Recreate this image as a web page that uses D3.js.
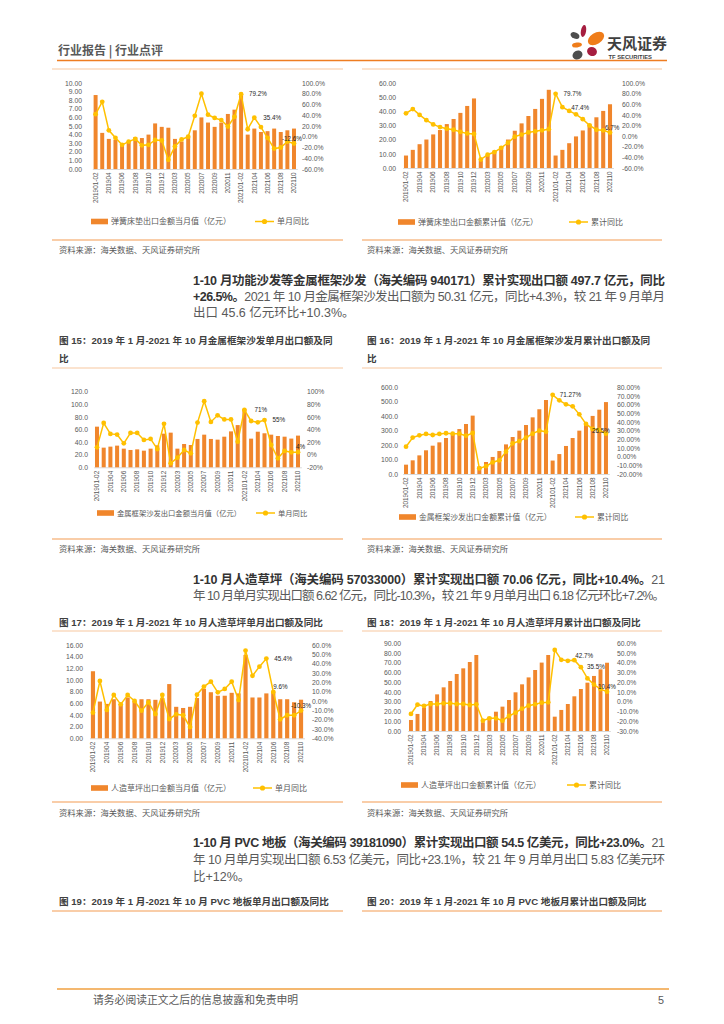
<!DOCTYPE html>
<html>
<head>
<meta charset="utf-8">
<script src="https://cdn.jsdelivr.net/npm/d3@7"></script>
<style>
  body { margin: 0; background: #fff; }
</style>
</head>
<body>
<div id="page"></div>
<script>
// periods shared by all six charts
const periods = ["201901-02","201903","201904","201905","201906","201907","201908","201909","201910","201911","201912",
  "202001-02","202003","202004","202005","202006","202007","202008","202009","202010","202011","202012",
  "202101-02","202103","202104","202105","202106","202107","202108","202109","202110"];

// spring mattress, monthly value (亿元) and yoy (%)
const springMonth = [8.6,4.2,3.5,3.4,3.0,3.1,3.7,3.6,4.0,5.3,4.9, 4.8,3.5,3.2,3.7,4.5,6.0,5.4,4.9,5.4,6.4,6.9, 8.6,4.0,4.7,4.3,4.4,4.7,4.3,4.5,4.7];
const springMonthYoy = [42,65,12,-2,-15,-9,-4,-16,-15,-6,-7, -43,-18,-5,0,39,80,41,35,31,19,37, 79.2,14,35.4,18,-2,-22,-20,-9,-12.6];
// spring mattress, cumulative value and yoy
const springCum = [8.8,12.8,16.8,20.1,23.7,26.8,31.0,34.6,38.9,43.8,49.1, 5.2,8.8,11.8,15.2,20.1,26.3,31.5,36.7,41.7,48.8,55.2, 8.8,12.8,17.5,22.3,26.5,30.8,35.8,40.3,45.0];
const springCumYoy = [43,51,40,30,22,17,14,12,8,5,4, -44,-35,-30,-22,-12.5,-1,3,7,9,11,13, 79.7,54.5,47.4,41,32,20,12,11,6.7];

// metal frame sofa
const sofaMonth = [64.5,31.2,32.8,34.4,29.6,27.5,28.5,26.4,29.6,34.9,53.4, 55.0,29.6,37.0,35.4,45.0,51.8,45.0,43.9,48.6,57.0,67.0, 92.5,45.5,56.5,54.0,51.8,49.7,48.6,45.6,50.3];
const sofaMonthYoy = [11.7,50.3,33,32,18,34.5,34.5,23.4,25,9,49, -13.6,-4.7,7.5,2.2,51,85,52,62.5,56,56,20.7, 71,53.5,51.4,55,15.4,-5.7,6,3.8,4];
const sofaCum = [64.6,94.6,129,164,196,219,249,279,311,346,404, 53,83,118,159,205,256,300,339,392,448,512, 93,138,194,249,300,351,402,445,497.7];
const sofaCumYoy = [11.5,22,24.6,26.2,25,26.2,27,26.5,26.5,24.2,27.3, -13.5,-11,-6.5,-4.2,5.8,15.4,18,22,26.5,30,28.8, 71.27,65,60.4,58,48.8,37.7,32,30.8,26.5];

// artificial turf
const turfMonth = [11.5,6.3,5.9,6.7,5.9,7.0,6.4,6.7,6.7,6.6,6.9, 9.3,5.4,5.2,5.4,6.9,8.5,7.9,7.3,7.3,7.8,7.7, 14.3,7.0,7.0,7.7,8.0,6.7,6.7,6.18,6.62];
const turfMonthYoy = [-12.5,21.4,-9.6,6.4,-3.6,6.4,0,-10.4,-1.4,-14,6.4, -19.3,-14.3,-15.3,-28,6.8,15.4,20.7,9.3,12.9,20.7,1, 54,27,36.8,45.4,9.6,-19.6,-15.3,-15.3,-10.3];
const turfCum = [11.3,17.5,24,30.8,37.6,44.8,51.3,58.5,64.3,70.8,78, 9.0,14.5,19.8,25,31.8,39.7,47.9,55,62.6,70.2,78, 14.7,21.6,27.7,35.6,43.1,49.6,56.5,63.3,70.06];
const turfCumYoy = [-12.5,-3,-4.3,-2.3,-2.3,-1.6,-1.6,-2.3,-2.3,-3.3,-2.6, -19.4,-17,-17,-19.4,-14.6,-11.2,-7,-4,-2.6,-0.9,-0.6, 53.2,43,42,42.7,35.5,24,17.6,13,10.4];

const BAR = "#f0862c", LINE = "#ffc000";
const CJK = "'Noto Sans CJK SC', 'Liberation Sans', sans-serif";
const NUM = "'Liberation Sans', 'Noto Sans CJK SC', sans-serif";

const svg = d3.select("#page").append("svg")
  .attr("width", 724).attr("height", 1024)
  .style("background", "#fff");

// ---------- header ----------
svg.append("text").attr("x", 58).attr("y", 54.5)
  .style("font-family", CJK).style("font-size", "12px").style("font-weight", "bold")
  .attr("fill", "#595959").text("行业报告 | 行业点评");
svg.append("line").attr("x1", 57).attr("x2", 667).attr("y1", 60.5).attr("y2", 60.5)
  .attr("stroke", "#ee7d22").attr("stroke-width", 1.4);

// logo petals
const petals = [
  { cx: 583.5, cy: 31, rx: 2.6, ry: 6, r: 10, c: "#a61e40" },
  { cx: 596, cy: 38.5, rx: 9, ry: 5.5, r: -32, c: "#ef7d1a" },
  { cx: 575, cy: 35.5, rx: 4.6, ry: 3, r: 25, c: "#4d4d4d" },
  { cx: 577, cy: 45, rx: 5, ry: 2.4, r: -8, c: "#ef7d1a" },
  { cx: 592, cy: 51.5, rx: 5, ry: 4.4, r: 20, c: "#a61e40" },
  { cx: 577.5, cy: 55, rx: 5.2, ry: 4.4, r: -30, c: "#4d4d4d" }
];
svg.append("g").selectAll("ellipse").data(petals).join("ellipse")
  .attr("cx", d => d.cx).attr("cy", d => d.cy).attr("rx", d => d.rx).attr("ry", d => d.ry)
  .attr("transform", d => `rotate(${d.r},${d.cx},${d.cy})`).attr("fill", d => d.c);
svg.append("text").attr("x", 607).attr("y", 48.5)
  .style("font-family", CJK).style("font-size", "15px").style("font-weight", "bold")
  .attr("fill", "#3f3f3f").text("天风证券");
svg.append("text").attr("x", 608.5).attr("y", 58.5)
  .style("font-family", NUM).style("font-size", "5.8px").style("font-weight", "bold")
  .attr("fill", "#3f3f3f").text("TF SECURITIES");

// ---------- panel frame lines, titles, sources ----------
function hline(y, x1, x2, c) {
  svg.append("line").attr("x1", x1).attr("x2", x2).attr("y1", y).attr("y2", y)
    .attr("stroke", c).attr("stroke-width", 1.2);
}
const LIGHT = "#f7c8a0", MID = "#f39b52";
[[69, 240], [368, 539], [631, 802]].forEach(([t, b]) => {
  hline(t, 52, 343, LIGHT); hline(t, 362, 662, LIGHT);
  hline(b, 52, 343, MID); hline(b, 362, 662, MID);
});
hline(911, 52, 343, MID); hline(911, 362, 662, MID);

function source(x, y) {
  svg.append("text").attr("x", x).attr("y", y)
    .style("font-family", CJK).style("font-size", "8.3px").attr("fill", "#595959")
    .text("资料来源：海关数据、天风证券研究所");
}
[253, 551.5, 816].forEach(y => { source(59, y); source(367, y); });

function figTitle(x, y, txt) {
  svg.append("text").attr("x", x).attr("y", y)
    .style("font-family", NUM).style("font-size", "9.6px").style("font-weight", "bold")
    .attr("fill", "#404040").text(txt);
}
figTitle(59, 343.5, "图 15：2019 年 1 月-2021 年 10 月金属框架沙发单月出口额及同");
figTitle(59, 361.5, "比");
figTitle(367, 343.5, "图 16：2019 年 1 月-2021 年 10 月金属框架沙发月累计出口额及同");
figTitle(367, 361.5, "比");
figTitle(59, 625.5, "图 17：2019 年 1 月-2021 年 10 月人造草坪单月出口额及同比");
figTitle(367, 625.5, "图 18：2019 年 1 月-2021 年 10 月人造草坪月累计出口额及同比");
figTitle(59, 904.5, "图 19：2019 年 1 月-2021 年 10 月 PVC 地板单月出口额及同比");
figTitle(367, 904.5, "图 20：2019 年 1 月-2021 年 10 月 PVC 地板月累计出口额及同比");

// ---------- paragraphs ----------
function paragraph(lines, ys, justify) {
  lines.forEach((segs, k) => {
    const t = svg.append("text").attr("x", 193).attr("y", ys[k])
      .style("font-family", NUM).style("font-size", "12.5px");
    if (justify[k]) t.attr("textLength", 472).attr("lengthAdjust", "spacing");
    segs.forEach(s => {
      t.append("tspan").text(s.t)
        .style("font-weight", s.b ? "bold" : "normal")
        .attr("fill", s.b ? "#333" : "#5a5a5a");
    });
  });
}
paragraph([
  [{ t: "1-10 月功能沙发等金属框架沙发（海关编码 940171）累计实现出口额 497.7 亿元，同比", b: 1 }],
  [{ t: "+26.5%。", b: 1 }, { t: "2021 年 10 月金属框架沙发出口额为 50.31 亿元，同比+4.3%，较 21 年 9 月单月" }],
  [{ t: "出口 45.6 亿元环比+10.3%。" }]
], [284.5, 300.5, 316.5], [true, true, false]);
paragraph([
  [{ t: "1-10 月人造草坪（海关编码 57033000）累计实现出口额 70.06 亿元，同比+10.4%。", b: 1 }, { t: "21" }],
  [{ t: "年 10 月单月实现出口额 6.62 亿元，同比-10.3%，较 21 年 9 月单月出口 6.18 亿元环比+7.2%。" }]
], [583.5, 599.5], [true, true]);
paragraph([
  [{ t: "1-10 月 PVC 地板（海关编码 39181090）累计实现出口额 54.5 亿美元，同比+23.0%。", b: 1 }, { t: "21" }],
  [{ t: "年 10 月单月实现出口额 6.53 亿美元，同比+23.1%，较 21 年 9 月单月出口 5.83 亿美元环" }],
  [{ t: "比+12%。" }]
], [846.5, 863.5, 880.5], [true, true, false]);

// ---------- footer ----------
svg.append("line").attr("x1", 57).attr("x2", 669).attr("y1", 989).attr("y2", 989)
  .attr("stroke", "#f0a040").attr("stroke-width", 1.6);
svg.append("text").attr("x", 93).attr("y", 1004)
  .style("font-family", CJK).style("font-size", "10.8px").attr("fill", "#595959")
  .text("请务必阅读正文之后的信息披露和免责申明");
svg.append("text").attr("x", 664).attr("y", 1004).attr("text-anchor", "end")
  .style("font-family", NUM).style("font-size", "10.8px").attr("fill", "#595959").text("5");

// ---------- combo chart ----------
function drawChart(o) {
  const g = svg.append("g");
  const x = d3.scaleBand().domain(d3.range(o.bars.length)).range(o.xRange)
    .paddingInner(0.4).paddingOuter(0.2);
  const y = d3.scaleLinear().domain([0, o.leftMax]).range(o.yRange);
  const yR = d3.scaleLinear().domain(o.rightDomain).range(o.yRange);
  const cx = i => x(i) + x.bandwidth() / 2;

  const styleAxis = a => {
    a.select(".domain").remove();
    a.selectAll("text").style("font-family", NUM).style("font-size", "6.8px").attr("fill", "#595959");
  };
  g.append("g").attr("transform", `translate(${o.leftLabelX},0)`)
    .call(d3.axisLeft(y).tickValues(d3.range(0, o.leftMax + o.leftStep / 2, o.leftStep))
      .tickSize(0).tickPadding(0).tickFormat(o.leftFmt))
    .call(styleAxis);
  g.append("g").attr("transform", `translate(${o.rightLabelX},0)`)
    .call(d3.axisRight(yR).tickValues(d3.range(o.rightDomain[0], o.rightDomain[1] + o.rightStep / 2, o.rightStep))
      .tickSize(0).tickPadding(0).tickFormat(o.rightFmt))
    .call(styleAxis);
  g.append("g").attr("transform", `translate(0,${o.yRange[0]})`)
    .call(d3.axisBottom(x).tickValues(d3.range(0, o.bars.length, 2)).tickSize(0)
      .tickFormat(i => periods[i]))
    .call(a => {
      a.select(".domain").attr("stroke", "#d9d9d9");
      a.selectAll("text").attr("transform", "rotate(-90)").attr("text-anchor", "end")
        .attr("x", -3.5).attr("y", 0).attr("dy", "0.35em")
        .style("font-family", NUM).style("font-size", "6.4px").attr("fill", "#595959");
    });

  g.append("g").selectAll("rect").data(o.bars).join("rect")
    .attr("x", (d, i) => x(i)).attr("width", x.bandwidth())
    .attr("y", d => y(d)).attr("height", d => y(0) - y(d)).attr("fill", BAR);

  g.append("path").datum(o.line)
    .attr("fill", "none").attr("stroke", LINE).attr("stroke-width", 1.5)
    .attr("d", d3.line().x((d, i) => cx(i)).y(d => yR(d)));
  g.append("g").selectAll("circle").data(o.line).join("circle")
    .attr("cx", (d, i) => cx(i)).attr("cy", d => yR(d)).attr("r", 2.4).attr("fill", LINE);

  g.append("g").selectAll("text").data(o.labels).join("text")
    .attr("x", d => cx(d.i) + d.dx).attr("y", d => yR(o.line[d.i]) + d.dy).attr("dy", "0.35em")
    .style("font-family", NUM).style("font-size", "6.3px").attr("fill", "#262626")
    .text(d => d.t);

  // legend
  const L = o.legend;
  g.append("rect").attr("x", L.barX).attr("y", L.y - 2.8).attr("width", 17).attr("height", 5.6).attr("fill", BAR);
  g.append("text").attr("x", L.barX + 20).attr("y", L.y).attr("dy", "0.35em")
    .style("font-family", CJK).style("font-size", L.fs + "px").attr("fill", "#595959").text(L.barText);
  g.append("line").attr("x1", L.lineX).attr("x2", L.lineX + 19).attr("y1", L.y).attr("y2", L.y)
    .attr("stroke", LINE).attr("stroke-width", 1.5);
  g.append("circle").attr("cx", L.lineX + 9.5).attr("cy", L.y).attr("r", 2.6).attr("fill", LINE);
  g.append("text").attr("x", L.lineX + 22).attr("y", L.y).attr("dy", "0.35em")
    .style("font-family", CJK).style("font-size", L.fs + "px").attr("fill", "#595959").text(L.lineText);
}

const f2 = d => d.toFixed(2), f1 = d => d.toFixed(1);

drawChart({
  bars: springMonth, line: springMonthYoy,
  xRange: [92.3, 297.3], yRange: [169, 83],
  leftMax: 10, leftStep: 1, leftFmt: f2, leftLabelX: 82,
  rightDomain: [-60, 100], rightStep: 20, rightFmt: d => d.toFixed(1) + "%", rightLabelX: 302,
  labels: [{ i: 22, t: "79.2%", dx: 8, dy: 0 }, { i: 24, t: "35.4%", dx: 9, dy: 0 }, { i: 30, t: "-12.6%", dx: -12, dy: -5 }],
  legend: { y: 221.5, barX: 91, lineX: 255, fs: 8, barText: "弹簧床垫出口金额当月值（亿元）", lineText: "单月同比" }
});
drawChart({
  bars: springCum, line: springCumYoy,
  xRange: [402.6, 613.4], yRange: [168, 83],
  leftMax: 60, leftStep: 10, leftFmt: f2, leftLabelX: 396,
  rightDomain: [-60, 100], rightStep: 20, rightFmt: d => d.toFixed(1) + "%", rightLabelX: 622,
  labels: [{ i: 22, t: "79.7%", dx: 8, dy: 0 }, { i: 24, t: "47.4%", dx: 2, dy: -3 }, { i: 30, t: "6.7%", dx: -5, dy: -5 }],
  legend: { y: 222, barX: 398, lineX: 569, fs: 8, barText: "弹簧床垫出口金额累计值（亿元）", lineText: "累计同比" }
});
drawChart({
  bars: sofaMonth, line: sofaMonthYoy,
  xRange: [93.65, 301.35], yRange: [467.3, 391.7],
  leftMax: 120, leftStep: 20, leftFmt: f1, leftLabelX: 88,
  rightDomain: [-20, 100], rightStep: 20, rightFmt: d => d + "%", rightLabelX: 307,
  labels: [{ i: 22, t: "71%", dx: 10, dy: 0 }, { i: 25, t: "55%", dx: 8, dy: 0 }, { i: 30, t: "4%", dx: -2, dy: -5 }],
  legend: { y: 513, barX: 97, lineX: 256, fs: 7.3, barText: "金属框架沙发出口金额当月值（亿元）", lineText: "单月同比" }
});
drawChart({
  bars: sofaCum, line: sofaCumYoy,
  xRange: [402.7, 609.3], yRange: [474, 387.3],
  leftMax: 600, leftStep: 100, leftFmt: f1, leftLabelX: 398,
  rightDomain: [-20, 80], rightStep: 10, rightFmt: d => d.toFixed(2) + "%", rightLabelX: 617,
  labels: [{ i: 22, t: "71.27%", dx: 7, dy: 0 }, { i: 30, t: "26.5%", dx: -14, dy: -3 }],
  legend: { y: 517, barX: 399, lineX: 575, fs: 7.8, barText: "金属框架沙发出口金额累计值（亿元）", lineText: "累计同比" }
});
drawChart({
  bars: turfMonth, line: turfMonthYoy,
  xRange: [89.5, 304.5], yRange: [738.3, 645],
  leftMax: 16, leftStep: 2, leftFmt: f2, leftLabelX: 83,
  rightDomain: [-40, 60], rightStep: 10, rightFmt: d => d.toFixed(1) + "%", rightLabelX: 312,
  labels: [{ i: 25, t: "45.4%", dx: 8, dy: 0 }, { i: 26, t: "9.6%", dx: 0, dy: -5 }, { i: 30, t: "-10.3%", dx: -10, dy: -5 }],
  legend: { y: 788, barX: 91, lineX: 253, fs: 8, barText: "人造草坪出口金额当月值（亿元）", lineText: "单月同比" }
});
drawChart({
  bars: turfCum, line: turfCumYoy,
  xRange: [407.7, 610.3], yRange: [731, 643.3],
  leftMax: 90, leftStep: 10, leftFmt: f2, leftLabelX: 401,
  rightDomain: [-30, 60], rightStep: 10, rightFmt: d => d.toFixed(1) + "%", rightLabelX: 617,
  labels: [{ i: 25, t: "42.7%", dx: 1, dy: -4 }, { i: 26, t: "35.5%", dx: 6, dy: 0 }, { i: 30, t: "10.4%", dx: -9, dy: -5 }],
  legend: { y: 785, barX: 401, lineX: 567, fs: 8, barText: "人造草坪出口金额累计值（亿元）", lineText: "累计同比" }
});
</script>
</body>
</html>
